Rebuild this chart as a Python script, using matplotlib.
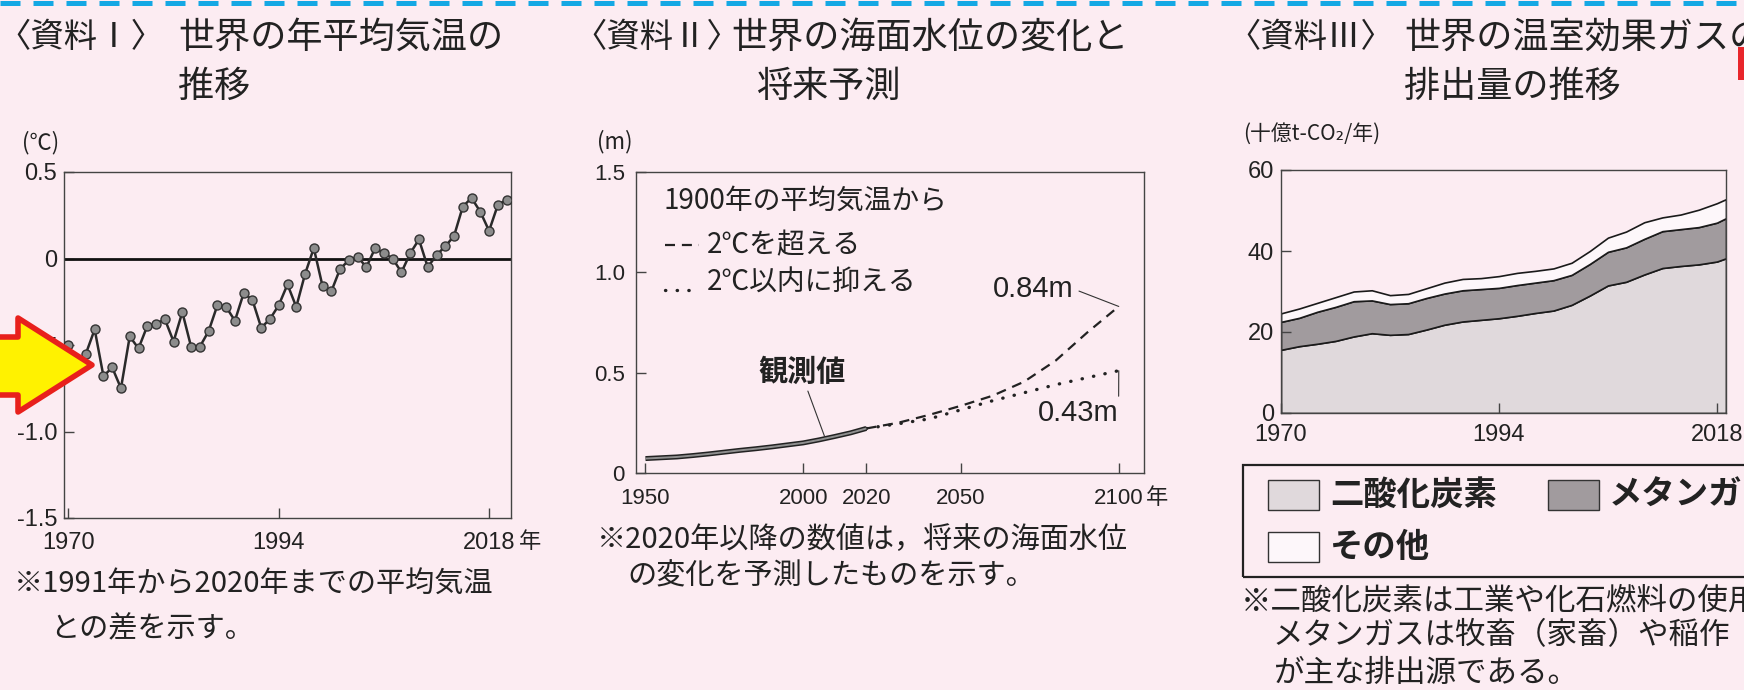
import matplotlib.pyplot as plt
from matplotlib.lines import Line2D
from matplotlib.patches import Polygon, Rectangle

# ---- data ----
# 資料I: annual mean temperature anomaly (°C, vs 1991-2020 mean)
temp_years = list(range(1970, 2021))
temp_anom = [-0.50, -0.62, -0.55, -0.41, -0.68, -0.63, -0.75, -0.45, -0.52, -0.39,
             -0.38, -0.35, -0.48, -0.31, -0.51, -0.51, -0.42, -0.27, -0.28, -0.36,
             -0.20, -0.24, -0.40, -0.35, -0.27, -0.15, -0.28, -0.09, 0.06, -0.16,
             -0.19, -0.06, -0.01, 0.01, -0.05, 0.06, 0.03, 0.00, -0.08, 0.03,
             0.11, -0.05, 0.02, 0.07, 0.13, 0.30, 0.35, 0.27, 0.16, 0.31, 0.34]

# 資料II: sea level (m)
sea_years = [1950, 1955, 1960, 1965, 1970, 1975, 1980, 1985, 1990, 1995, 2000, 2005, 2010, 2015, 2020]
sea_obs = [0.072, 0.076, 0.080, 0.087, 0.095, 0.104, 0.113, 0.121, 0.130, 0.140, 0.150, 0.165, 0.182, 0.200, 0.222]
proj_years = [2020, 2030, 2040, 2050, 2060, 2070, 2080, 2090, 2100]
proj_over2 = [0.222, 0.25, 0.29, 0.335, 0.385, 0.455, 0.56, 0.70, 0.83]
proj_within2 = [0.222, 0.245, 0.27, 0.315, 0.36, 0.40, 0.44, 0.475, 0.51]

# 資料III: greenhouse gas emissions (十億t-CO2/年)
ghg_years = [1970, 1972, 1974, 1976, 1978, 1980, 1982, 1984, 1986, 1988, 1990, 1992, 1994,
             1996, 1998, 2000, 2002, 2004, 2006, 2008, 2010, 2012, 2014, 2016, 2018, 2019]
co2 = [15.6, 16.5, 17.1, 17.8, 18.9, 19.7, 19.3, 19.5, 20.6, 21.8, 22.6, 23.0, 23.4,
       24.0, 24.7, 25.3, 26.7, 29.0, 31.5, 32.4, 34.2, 35.8, 36.3, 36.7, 37.4, 38.2]
methane = [6.9, 7.0, 7.9, 8.4, 8.7, 8.1, 7.6, 7.6, 7.8, 7.7, 7.7, 7.6, 7.5,
           7.6, 7.5, 7.5, 7.4, 7.8, 8.3, 8.5, 8.8, 9.1, 9.1, 9.2, 9.6, 9.9]
other = [2.1, 2.3, 2.2, 2.4, 2.4, 2.5, 2.2, 2.3, 2.4, 2.7, 2.8, 2.7, 2.9,
         3.0, 2.9, 2.9, 3.0, 3.2, 3.5, 3.9, 4.1, 3.4, 3.6, 4.3, 4.8, 4.7]
ghg_labels = ['二酸化炭素', 'メタンガス', 'その他']

W, H = 1744, 690
BG = '#fcecf2'
INK = '#222222'
JP = ['Noto Sans CJK JP', 'DejaVu Sans']
NUM = 'Liberation Sans'
co2_col, ch4_col, oth_col = '#e0d9dc', '#a19b9e', '#fdf7fa'

plt.rcParams['font.family'] = JP
plt.rcParams['axes.unicode_minus'] = False


def fx(px):
    return px / W


def fy(py):
    return 1 - py / H


fig = plt.figure(figsize=(W / 100, H / 100), dpi=100, facecolor=BG)


def make_axes(left, top, right, bottom):
    ax = fig.add_axes([fx(left), fy(bottom), (right - left) / W, (bottom - top) / H])
    ax.set_facecolor(BG)
    for s in ax.spines.values():
        s.set_color('#444444')
        s.set_linewidth(1)
    ax.tick_params(direction='in', length=7, width=1, color='#444444',
                   labelsize=17, labelcolor=INK, labelfontfamily=NUM)
    return ax


def txt(px, py, s, size=20, **kw):
    kw.setdefault('va', 'center')
    kw.setdefault('color', INK)
    fig.text(fx(px), fy(py), s, size=size, **kw)


# blue dashed border on top
fig.add_artist(Line2D([0, 1], [fy(2.5), fy(2.5)], color='#14a8e4', lw=3.6,
                      linestyle=(0, (4, 2.6)), transform=fig.transFigure))

# ---------- 資料I ----------
ax1 = make_axes(64, 172, 511, 518)
ax1.axhline(0, color='#111111', lw=2, zorder=2)
ax1.plot(temp_years, temp_anom, color='#2a2a2a', lw=1.8, marker='o', ms=6.5,
         mfc='#8c8c8c', mec='#333333', mew=1, zorder=3)
ax1.set_xlim(1969.5, 2020.5)
ax1.set_ylim(-1.5, 0.5)
ax1.set_yticks([0.5, 0, -0.5, -1.0, -1.5], ['0.5', '0', '-0.5', '-1.0', '-1.5'])
ax1.set_xticks([1970, 1994, 2018], ['1970', '1994', '2018'])
ax1.tick_params(axis='y', pad=5)
ax1.tick_params(axis='x', pad=10)

txt(-3, 38, '〈資料Ⅰ〉', size=24)
txt(178, 38, '世界の年平均気温の', size=26)
txt(178, 87, '推移', size=26)
txt(22, 143, '(℃)', size=16)
txt(519, 541, '年', size=16)
txt(14, 584, '※1991年から2020年までの平均気温', size=21)
txt(50, 629, 'との差を示す。', size=21)

# ---------- 資料II ----------
ax2 = make_axes(636, 172, 1144, 473)
ax2.plot(sea_years, sea_obs, color='#222222', lw=3.6, solid_capstyle='butt', zorder=3)
ax2.plot(sea_years, sea_obs, color='#8f8f8f', lw=1.4, solid_capstyle='butt', zorder=4)
ax2.plot(proj_years, proj_over2, color='#222222', lw=1.6, linestyle=(0, (4.5, 3.1)))
ax2.plot(proj_years, proj_within2, color='#222222', lw=2.4, linestyle=(0, (0.1, 3.4)),
         dash_capstyle='round')
ax2.set_xlim(1947, 2108)
ax2.set_ylim(0, 1.5)
ax2.set_yticks([0, 0.5, 1.0, 1.5], ['0', '0.5', '1.0', '1.5'])
ax2.set_xticks([1950, 2000, 2020, 2050, 2100], ['1950', '2000', '2020', '2050', '2100'])
ax2.tick_params(axis='y', pad=8, labelsize=16)
ax2.tick_params(axis='x', pad=11, labelsize=16)

ax2.annotate('0.84m', xy=(proj_years[-1], proj_over2[-1]), xycoords='data',
             xytext=(fx(993), fy(289)), textcoords='figure fraction',
             ha='left', va='center', size=21, family=NUM, color=INK,
             arrowprops=dict(arrowstyle='-', lw=0.8, color='#333333',
                             shrinkA=2, shrinkB=0, relpos=(1, 0.5)))
ax2.annotate('0.43m', xy=(proj_years[-1], proj_within2[-1]), xycoords='data',
             xytext=(fx(1038), fy(413)), textcoords='figure fraction',
             ha='left', va='center', size=21, family=NUM, color=INK,
             arrowprops=dict(arrowstyle='-', lw=0.8, color='#333333',
                             shrinkA=0, shrinkB=0, relpos=(1, 0.9)))
ax2.annotate('観測値', xy=(2007, 0.172), xycoords='data',
             xytext=(fx(802), fy(372)), textcoords='figure fraction',
             ha='center', va='center', size=21, weight='bold', color=INK,
             arrowprops=dict(arrowstyle='-', lw=0.8, color='#333333',
                             shrinkA=1, shrinkB=0, relpos=(0.55, 0)))

txt(663, 201, '1900年の平均気温から', size=20)
fig.add_artist(Line2D([fx(665), fx(699)], [fy(245), fy(245)], color='#222222', lw=1.6,
                      linestyle=(0, (4.5, 3.1)), transform=fig.transFigure))
txt(707, 245, '2℃を超える', size=20)
fig.add_artist(Line2D([fx(665), fx(699)], [fy(290), fy(290)], color='#222222', lw=2.4,
                      linestyle=(0, (0.1, 3.4)), dash_capstyle='round',
                      transform=fig.transFigure))
txt(707, 283, '2℃以内に抑える', size=20)

txt(573, 38, '〈資料Ⅱ〉', size=24)
txt(731, 38, '世界の海面水位の変化と', size=26)
txt(756, 87, '将来予測', size=26)
txt(597, 142, '(m)', size=16)
txt(1146, 497, '年', size=16)
txt(597, 540, '※2020年以降の数値は，将来の海面水位', size=21)
txt(627, 576, 'の変化を予測したものを示す。', size=21)

# ---------- 資料III ----------
ax3 = make_axes(1281, 170, 1726, 413)
ax3.stackplot(ghg_years, co2, methane, other, colors=[co2_col, ch4_col, oth_col],
              edgecolor='#1a1a1a', linewidth=1.2, labels=ghg_labels)
ax3.set_xlim(1970, 2019)
ax3.set_ylim(0, 60)
ax3.set_yticks([0, 20, 40, 60], ['0', '20', '40', '60'])
ax3.set_xticks([1970, 1994, 2018], ['1970', '1994', '2018'])
ax3.tick_params(axis='y', pad=5)
ax3.tick_params(axis='x', pad=8)

txt(1227, 38, '〈資料Ⅲ〉', size=24)
txt(1404, 38, '世界の温室効果ガスの', size=26)
txt(1404, 87, '排出量の推移', size=26)
txt(1243, 134, '(十億t-CO₂/年)', size=15)

# legend box (runs past the right edge, like the reference)
fig.add_artist(Rectangle((fx(1243), fy(577)), (1800 - 1243) / W, (577 - 465) / H,
                         facecolor='none', edgecolor='#222222', lw=1.6,
                         transform=fig.transFigure))
swatches = [(1268, 480, co2_col), (1548, 480, ch4_col), (1268, 532, oth_col)]
for (sx, sy, col) in swatches:
    fig.add_artist(Rectangle((fx(sx), fy(sy + 30)), 51 / W, 30 / H, facecolor=col,
                             edgecolor='#333333', lw=1, transform=fig.transFigure))
txt(1330, 495, ghg_labels[0], size=24, weight='bold')
txt(1609, 495, ghg_labels[1], size=24, weight='bold')
txt(1330, 547, ghg_labels[2], size=24, weight='bold')

txt(1241, 601, '※二酸化炭素は工業や化石燃料の使用，', size=22)
txt(1273, 636, 'メタンガスは牧畜（家畜）や稲作（水田）', size=22)
txt(1273, 673, 'が主な排出源である。', size=22)

# red frame edge at the right and the yellow arrow overlay
fig.add_artist(Rectangle((fx(1738), fy(80)), 12 / W, 33 / H, facecolor='#e8262b',
                         edgecolor='none', transform=fig.transFigure))
arrow_px = [(-10, 337), (18, 337), (18, 318), (92, 365), (18, 412), (18, 395), (-10, 395)]
fig.add_artist(Polygon([(fx(x), fy(y)) for x, y in arrow_px], closed=True,
                       facecolor='#fff200', edgecolor='#e8201c', lw=4,
                       joinstyle='round', transform=fig.transFigure, zorder=10))

fig.savefig('out.png', dpi=100, facecolor=BG)
